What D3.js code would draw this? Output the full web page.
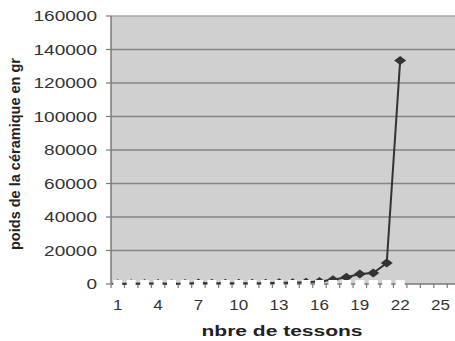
<!DOCTYPE html>
<html><head><meta charset="utf-8">
<script src="https://cdn.jsdelivr.net/npm/d3@7"></script>
<style>body{margin:0;background:#fff}svg{display:block}text{font-family:"Liberation Sans",Arial,sans-serif}</style>
</head><body>
<script>
const categories = d3.range(1, 27);
const weights = [200,150,300,250,200,300,600,500,450,500,400,500,700,800,1000,1500,2500,4000,6000,6500,12500,133500];
const zeroMarks = [0,0,0,0,0,0,0,0,0,0,0,0,0,0,0,0,0,0,0,0,0,0];
const yTicks = [0,20000,40000,60000,80000,100000,120000,140000,160000];
const xTickLabels = [1,4,7,10,13,16,19,22,25];

(function(){
const W=455,H=341;
const svg=d3.select("body").append("svg").attr("width",W).attr("height",H);
const pLeft=111, pTop=16, pBottom=284, step=13.45;
const x=d3.scaleBand().domain(categories).range([pLeft,pLeft+categories.length*step]).padding(0);
const y=d3.scaleLinear().domain([0,160000]).range([pBottom,pTop]);

svg.append("rect").attr("x",pLeft).attr("y",pTop).attr("width",x.range()[1]-pLeft).attr("height",pBottom-pTop).attr("fill","#d0d0d0");

svg.append("g").selectAll("line").data(yTicks.filter(d=>d>0)).join("line")
  .attr("x1",pLeft).attr("x2",x.range()[1]).attr("y1",d=>y(d)).attr("y2",d=>y(d))
  .attr("stroke",d=>d===160000?"#a8a8a8":"#858585").attr("stroke-width",1.5);

const ya=svg.append("g");
ya.append("line").attr("x1",pLeft).attr("x2",pLeft).attr("y1",pTop).attr("y2",pBottom).attr("stroke","#7a7a7a").attr("stroke-width",1.5);
ya.selectAll(".tk").data(yTicks).join("line").attr("class","tk").attr("x1",pLeft-5).attr("x2",pLeft).attr("y1",d=>y(d)).attr("y2",d=>y(d)).attr("stroke","#7a7a7a").attr("stroke-width",1.2);
ya.selectAll("text").data(yTicks).join("text")
  .attr("transform",d=>`translate(97,${y(d)+5}) scale(1.36,1)`)
  .attr("text-anchor","end").attr("font-size",14).attr("fill","#333").text(d=>d);

svg.append("line").attr("x1",pLeft).attr("x2",x.range()[1]).attr("y1",pBottom).attr("y2",pBottom).attr("stroke","#7a7a7a").attr("stroke-width",1.5);
svg.append("g").selectAll("line").data(categories).join("line")
  .attr("x1",d=>x(d)).attr("x2",d=>x(d)).attr("y1",pBottom).attr("y2",pBottom+4).attr("stroke","#7a7a7a").attr("stroke-width",1.2);
svg.append("g").selectAll("text").data(xTickLabels).join("text")
  .attr("transform",d=>`translate(${x(d)+x.bandwidth()/2},310) scale(1.22,1)`)
  .attr("text-anchor","middle").attr("font-size",14).attr("fill","#333").text(d=>d);

const cx=i=>x(categories[i])+x.bandwidth()/2;
const line=d3.line().x((d,i)=>cx(i)).y(d=>y(d));
svg.append("path").datum(weights).attr("d",line).attr("fill","none").attr("stroke","#333").attr("stroke-width",2);
svg.append("g").selectAll("path").data(weights).join("path")
  .attr("d","M0,-4.5L6,0L0,4.5L-6,0Z")
  .attr("transform",(d,i)=>`translate(${cx(i)},${y(d)})`).attr("fill","#333");

svg.append("g").selectAll("rect").data(zeroMarks).join("rect")
  .attr("x",(d,i)=>cx(i)-4.5).attr("y",d=>y(d)-4).attr("width",9).attr("height",8)
  .attr("fill","#fff");

svg.append("text").attr("x",282).attr("y",336).attr("text-anchor","middle").attr("font-size",14).attr("font-weight","bold")
  .attr("fill","#222").attr("textLength",161).attr("lengthAdjust","spacingAndGlyphs").text("nbre de tessons");
svg.append("text").attr("transform","translate(20,154) rotate(-90)").attr("text-anchor","middle").attr("font-size",14).attr("font-weight","bold")
  .attr("fill","#222").attr("textLength",192).attr("lengthAdjust","spacingAndGlyphs").text("poids de la céramique en gr");
})();
</script>
</body></html>
